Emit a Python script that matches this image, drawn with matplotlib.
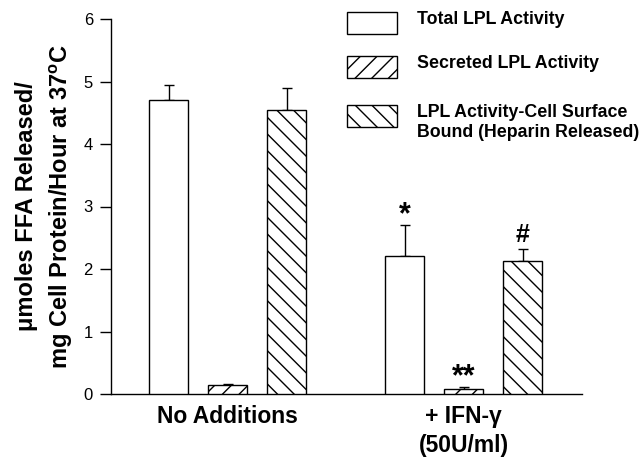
import numpy as np
import matplotlib.pyplot as plt
from matplotlib.patches import Rectangle

plt.rcParams['font.family'] = ['Liberation Sans', 'DejaVu Sans']
plt.rcParams['mathtext.fontset'] = 'custom'
plt.rcParams['mathtext.bf'] = 'Liberation Sans:bold'
plt.rcParams['mathtext.rm'] = 'Liberation Sans'
plt.rcParams['hatch.linewidth'] = 1.0

groups = ['No Additions', '+ IFN-\u03b3\n(50U/ml)']
series = ['Total LPL Activity', 'Secreted LPL Activity',
          'LPL Activity-Cell Surface\nBound (Heparin Released)']
total = [4.70, 2.21]
total_err = [0.25, 0.49]
secreted = [0.15, 0.085]
secreted_err = [0.01, 0.02]
bound = [4.55, 2.13]
bound_err = [0.34, 0.19]
marks_total = ['', '*']
marks_secreted = ['', '**']
marks_bound = ['', '#']

fig = plt.figure(figsize=(6.43, 4.59), dpi=100)
ax = fig.add_axes([111/643, 1 - 394/459, (582-111)/643, (394-19)/459])

x = np.arange(len(groups))
w = 0.167
off = 0.25
hatches = ['', '//', '\\\\']
vals = [total, secreted, bound]
errs = [total_err, secreted_err, bound_err]
marks = [marks_total, marks_secreted, marks_bound]

for i in range(3):
    pos = x + (i - 1) * off
    ax.bar(pos, vals[i], w, color='white', edgecolor='black', linewidth=1.0,
           hatch=hatches[i], zorder=3)
    e = np.array(errs[i])
    ax.errorbar(pos, vals[i], yerr=[np.zeros(len(e)), e], fmt='none',
                ecolor='black', elinewidth=1.0, capsize=3.6, capthick=1.0,
                zorder=2)
    for j in range(len(groups)):
        if marks[i][j]:
            top = vals[i][j] + errs[i][j]
            star = '*' in marks[i][j]
            ax.text(pos[j], top + (-0.08 if star else 0.04), marks[i][j],
                    ha='center', va='bottom',
                    fontsize=22 if star else 18, fontweight='bold')

ax.set_xlim(-0.494, 1.502)
ax.set_ylim(0, 6)
ax.set_yticks(range(0, 7))
ax.tick_params(axis='y', direction='out', length=8, width=1, labelsize=12, pad=5)
ax.tick_params(axis='x', length=0, pad=8)
ax.set_xticks(x)
ax.set_xticklabels(groups, fontsize=16.5, fontweight='bold', va='top',
                   linespacing=1.3)
for s in ['top', 'right']:
    ax.spines[s].set_visible(False)
for s in ['left', 'bottom']:
    ax.spines[s].set_linewidth(1.0)

ax.set_ylabel('\u03bcmoles FFA Released/\nmg Cell Protein/Hour at 37$^{\\mathbf{o}}$C',
              fontsize=17, fontweight='bold', linespacing=1.45, labelpad=6)

# legend drawn by hand in figure pixels
legend_y = [12, 56, 105]
for i in range(3):
    r = Rectangle((347/643, 1 - (legend_y[i] + 22)/459), 50/643, 22/459,
                  transform=fig.transFigure, facecolor='white',
                  edgecolor='black', linewidth=1.0, hatch=hatches[i])
    fig.patches.append(r)
    fig.text(417/643, 1 - (legend_y[i] - 1)/459, series[i], ha='left', va='top',
             fontsize=12.8, fontweight='bold', linespacing=1.2)

fig.savefig('out.png', dpi=100)
